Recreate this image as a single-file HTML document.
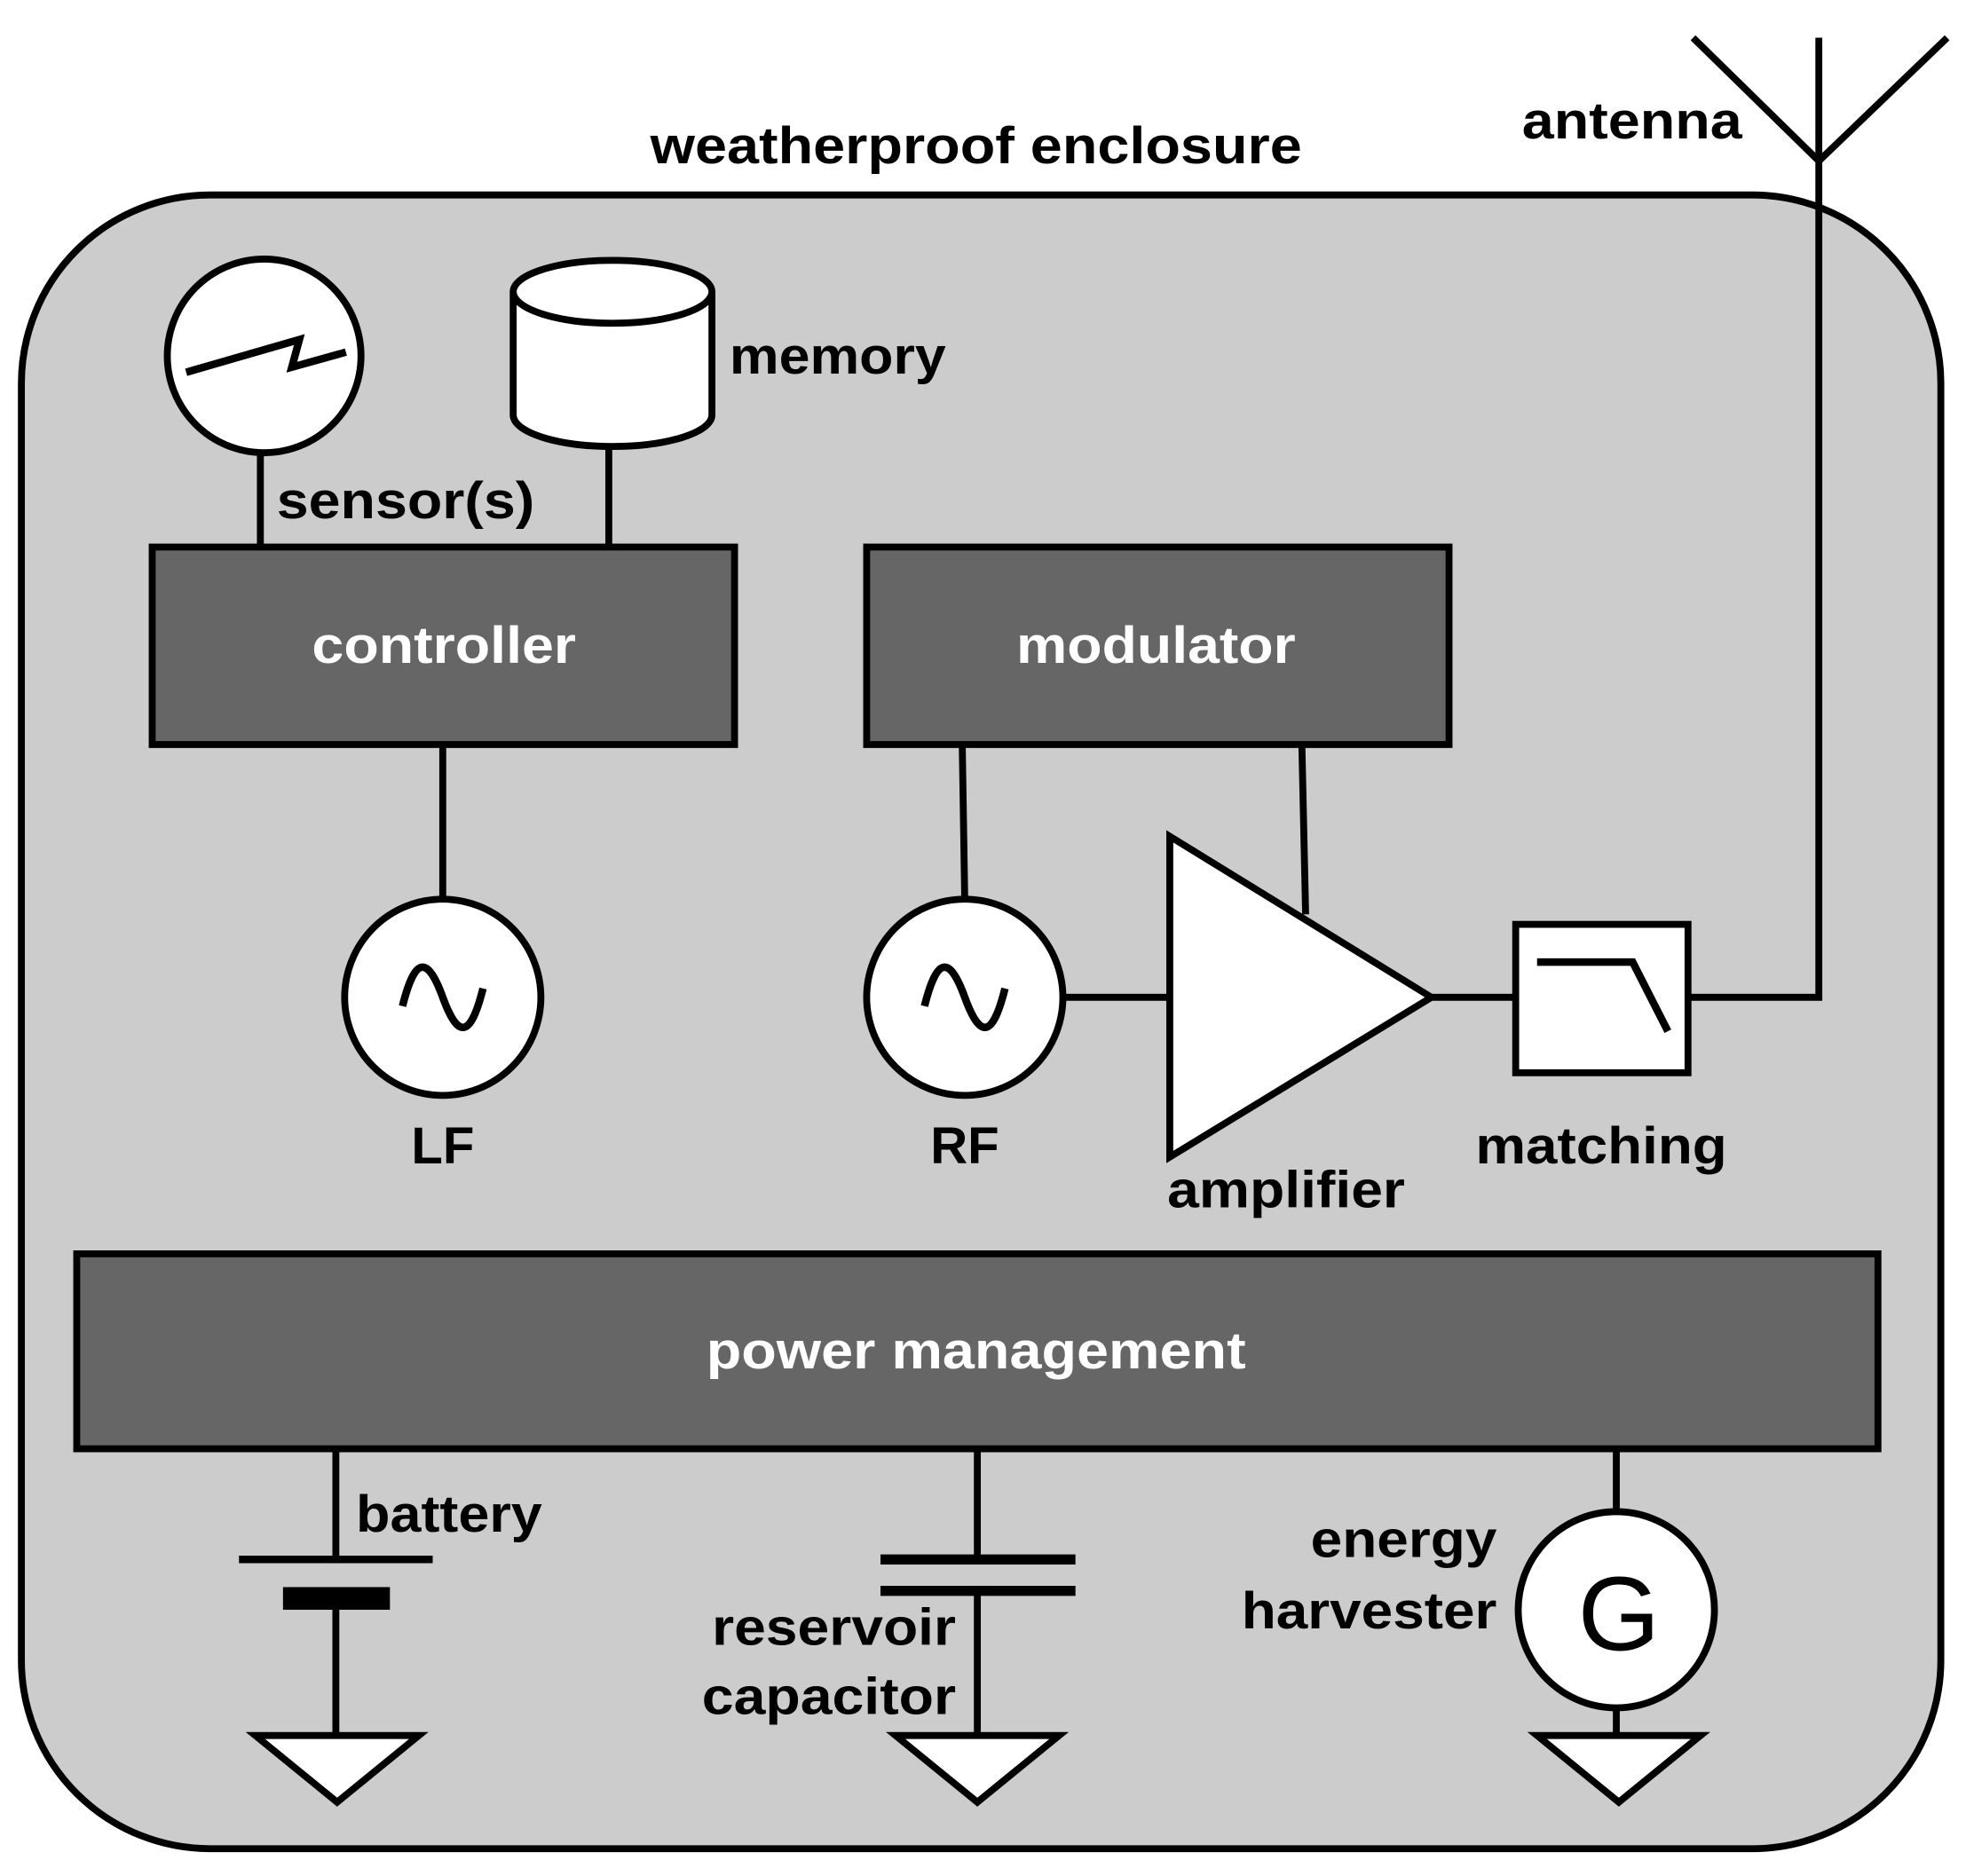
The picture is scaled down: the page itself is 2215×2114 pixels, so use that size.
<!DOCTYPE html>
<html><head><meta charset="utf-8"><style>html,body{margin:0;padding:0;background:#fff}svg{display:block}</style></head>
<body>
<svg width="2215" height="2114" viewBox="0 0 1563 1491.7" xmlns="http://www.w3.org/2000/svg" font-family="'Liberation Sans', sans-serif" font-weight="bold" font-size="41">
<rect x="17" y="155" width="1526" height="1315" rx="150" ry="150" fill="#cccccc" stroke="#000" stroke-width="5.5"/>
<text x="776" y="130" text-anchor="middle" textLength="518" lengthAdjust="spacingAndGlyphs">weatherproof enclosure</text>
<g stroke="#000" stroke-width="5.5" fill="none">
<polyline points="1346,30 1446,128 1548,30"/>
<polyline points="1446,30 1446,793 1342,793"/>
<line x1="207" y1="360" x2="207" y2="435"/>
<line x1="484" y1="355" x2="484" y2="435"/>
<line x1="352" y1="592" x2="352" y2="716"/>
<line x1="765" y1="592" x2="767" y2="716"/>
<line x1="845" y1="793" x2="930" y2="793"/>
<line x1="1035" y1="592" x2="1038" y2="727"/>
<line x1="1138" y1="793" x2="1205" y2="793"/>
<line x1="267" y1="1152" x2="267" y2="1240"/>
<line x1="267" y1="1280" x2="267" y2="1380"/>
<line x1="777" y1="1152" x2="777" y2="1240"/>
<line x1="777" y1="1265" x2="777" y2="1380"/>
<line x1="1285" y1="1152" x2="1285" y2="1202"/>
<line x1="1285" y1="1358" x2="1285" y2="1380"/>
</g>
<g stroke="#000" stroke-width="5.5" fill="#fff">
<circle cx="210" cy="283" r="77"/>
<path d="M408,232 V330 A79,25 0 0 0 566,330 V232 A79,25 0 0 0 408,232 A79,25 0 0 0 566,232"/>
<circle cx="352" cy="793" r="78"/>
<circle cx="767" cy="793" r="78"/>
<polygon points="930,665 930,920 1138,793"/>
<rect x="1205" y="735" width="137" height="118"/>
<circle cx="1285" cy="1280" r="78"/>
<polygon points="203,1380 333,1380 268,1433"/>
<polygon points="712,1380 842,1380 777,1433"/>
<polygon points="1222,1380 1352,1380 1287,1433"/>
</g>
<g stroke="#000" stroke-width="6" fill="none">
<polyline points="148,296 238,270 232,292 275,280"/>
<path d="M320,800 C330,760 340,760 352,793 C364,826 374,826 384,786"/>
<path d="M735,800 C745,760 755,760 767,793 C779,826 789,826 799,786"/>
<polyline points="1222,765 1298,765 1326,820"/>
<line x1="190" y1="1240" x2="344" y2="1240"/>
<line x1="700" y1="1240" x2="855" y2="1240" stroke-width="8"/>
<line x1="700" y1="1265" x2="855" y2="1265" stroke-width="8"/>
</g>
<rect x="225" y="1262" width="85" height="18" fill="#000"/>
<g fill="#666" stroke="#000" stroke-width="5.5">
<rect x="121" y="435" width="463" height="157"/>
<rect x="689" y="435" width="463" height="157"/>
<rect x="61" y="997" width="1432" height="155"/>
</g>
<g fill="#fff" text-anchor="middle" lengthAdjust="spacingAndGlyphs">
<text x="353" y="527" textLength="210" lengthAdjust="spacingAndGlyphs">controller</text>
<text x="919" y="527" textLength="222" lengthAdjust="spacingAndGlyphs">modulator</text>
<text x="776" y="1088" textLength="429" lengthAdjust="spacingAndGlyphs">power management</text>
</g>
<g fill="#000">
<text x="1210" y="110" textLength="175" lengthAdjust="spacingAndGlyphs">antenna</text>
<text x="580" y="297" textLength="172" lengthAdjust="spacingAndGlyphs">memory</text>
<text x="220" y="412" textLength="205" lengthAdjust="spacingAndGlyphs">sensor(s)</text>
<text x="352" y="925" text-anchor="middle">LF</text>
<text x="767" y="925" text-anchor="middle">RF</text>
<text x="928" y="960" textLength="189" lengthAdjust="spacingAndGlyphs">amplifier</text>
<text x="1173" y="925" textLength="200" lengthAdjust="spacingAndGlyphs">matching</text>
<text x="283" y="1218" textLength="148" lengthAdjust="spacingAndGlyphs">battery</text>
<text x="566" y="1308" textLength="194" lengthAdjust="spacingAndGlyphs">reservoir</text>
<text x="558" y="1363" textLength="202" lengthAdjust="spacingAndGlyphs">capacitor</text>
<text x="1042" y="1238" textLength="148" lengthAdjust="spacingAndGlyphs">energy</text>
<text x="987" y="1295" textLength="203" lengthAdjust="spacingAndGlyphs">harvester</text>
<text x="1287" y="1312" text-anchor="middle" font-size="84" font-weight="normal">G</text>
</g>
</svg>
</body></html>
